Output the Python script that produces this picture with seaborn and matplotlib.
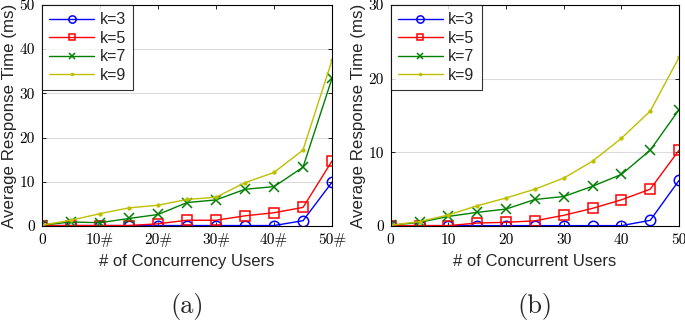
import numpy as np
import pandas as pd
import matplotlib
matplotlib.use("Agg")
import matplotlib.pyplot as plt
import seaborn as sns

# ---- data ----
x_users = [0, 5, 10, 15, 20, 25, 30, 35, 40, 45, 50]
ks = ["k=3", "k=5", "k=7", "k=9"]

a_k3 = [0.1, 0.1, 0.1, 0.1, 0.1, 0.1, 0.1, 0.1, 0.1, 1.2, 9.9]
a_k5 = [0.1, 0.1, 0.1, 0.1, 0.5, 1.3, 1.3, 2.3, 3.0, 4.2, 14.7]
a_k7 = [0.2, 0.9, 0.75, 1.7, 2.6, 5.3, 5.9, 8.3, 8.9, 13.3, 33.4]
a_k9 = [0.2, 1.3, 2.8, 4.1, 4.7, 6.0, 6.5, 9.8, 12.1, 17.2, 37.5]

b_k3 = [0.05, 0.05, 0.05, 0.05, 0.05, 0.05, 0.05, 0.05, 0.05, 0.77, 6.2]
b_k5 = [0.05, 0.05, 0.05, 0.4, 0.5, 0.7, 1.45, 2.4, 3.55, 5.0, 10.3]
b_k7 = [0.1, 0.5, 1.3, 1.85, 2.3, 3.6, 4.0, 5.4, 7.0, 10.3, 15.8]
b_k9 = [0.1, 0.6, 1.5, 2.75, 3.8, 5.0, 6.5, 8.8, 11.9, 15.6, 22.9]

a_xticklabels = ["0", "10#", "20#", "30#", "40#", "50#"]
b_xticklabels = ["0", "10", "20", "30", "40", "50"]
a_yticks = [0, 10, 20, 30, 40, 50]
b_yticks = [0, 10, 20, 30]

colors = {"k=3": (0, 0, 1), "k=5": (1, 0, 0), "k=7": (0, 0.5, 0), "k=9": (0.75, 0.75, 0)}
markers = {"k=3": "o", "k=5": "s", "k=7": "x", "k=9": "."}
msizes = {"k=3": 7.5, "k=5": 6.5, "k=7": 7, "k=9": 4}

def make_df(series):
    rows = []
    for k, vals in zip(ks, series):
        for xv, yv in zip(x_users, vals):
            rows.append({"users": xv, "time": yv, "k": k})
    return pd.DataFrame(rows)

df_a = make_df([a_k3, a_k5, a_k7, a_k9])
df_b = make_df([b_k3, b_k5, b_k7, b_k9])

sns.set_style("white")
plt.rcParams["font.family"] = ["Liberation Sans", "DejaVu Sans"]

fig = plt.figure(figsize=(6.85, 3.28), dpi=100)
ax_a = fig.add_axes([0.0613, 0.311, 0.4234, 0.674])
ax_b = fig.add_axes([0.5704, 0.311, 0.4210, 0.674])

def draw(ax, df, ymax, yticks, xlabels, xlabel, panel):
    for k in ks:
        sub = df[df["k"] == k]
        m = markers[k]
        kw = dict(marker=m, markersize=msizes[k], markeredgewidth=1.1)
        if m in ("o", "s"):
            kw["markerfacecolor"] = "none"
            kw["markeredgecolor"] = colors[k]
        else:
            kw["markeredgecolor"] = colors[k]
            kw["markerfacecolor"] = colors[k]
        sns.lineplot(data=sub, x="users", y="time", ax=ax, color=colors[k],
                     label=k, linewidth=1.0, **kw)
    ax.set_xlim(0, 50)
    ax.set_ylim(0, ymax)
    ax.set_xticks([0, 10, 20, 30, 40, 50])
    ax.set_xticklabels(xlabels, fontfamily="cmr10", fontsize=11)
    ax.set_yticks(yticks)
    ax.set_yticklabels([str(t) for t in yticks], fontfamily="cmr10", fontsize=11)
    ax.yaxis.grid(True, color=(0.86, 0.86, 0.86), linewidth=0.8)
    ax.xaxis.grid(False)
    ax.tick_params(direction="in", length=3, width=0.6, top=True, right=True,
                   bottom=True, left=True, colors="black", pad=5)
    for s in ax.spines.values():
        s.set_color("black")
        s.set_linewidth(0.8)
        s.set_visible(True)
    ax.set_xlabel(xlabel, fontsize=12, labelpad=5)
    ax.set_ylabel("Average Response Time (ms)", fontsize=12.2, labelpad=2)
    leg = ax.legend(loc="upper left", fontsize=11.5, frameon=True, fancybox=False,
                    edgecolor="black", handlelength=2.8, borderaxespad=0.0,
                    labelspacing=0.22, borderpad=0.45, handletextpad=0.35,
                    markerscale=0.7)
    leg.get_frame().set_linewidth(0.8)
    ax.text(0.5, -0.366, panel, transform=ax.transAxes, ha="center", va="center",
            fontfamily="cmr10", fontsize=19)

draw(ax_a, df_a, 50, a_yticks, a_xticklabels, "# of Concurrency Users", "(a)")
draw(ax_b, df_b, 30, b_yticks, b_xticklabels, "# of Concurrent Users", "(b)")

fig.savefig("out.png", dpi=100)
